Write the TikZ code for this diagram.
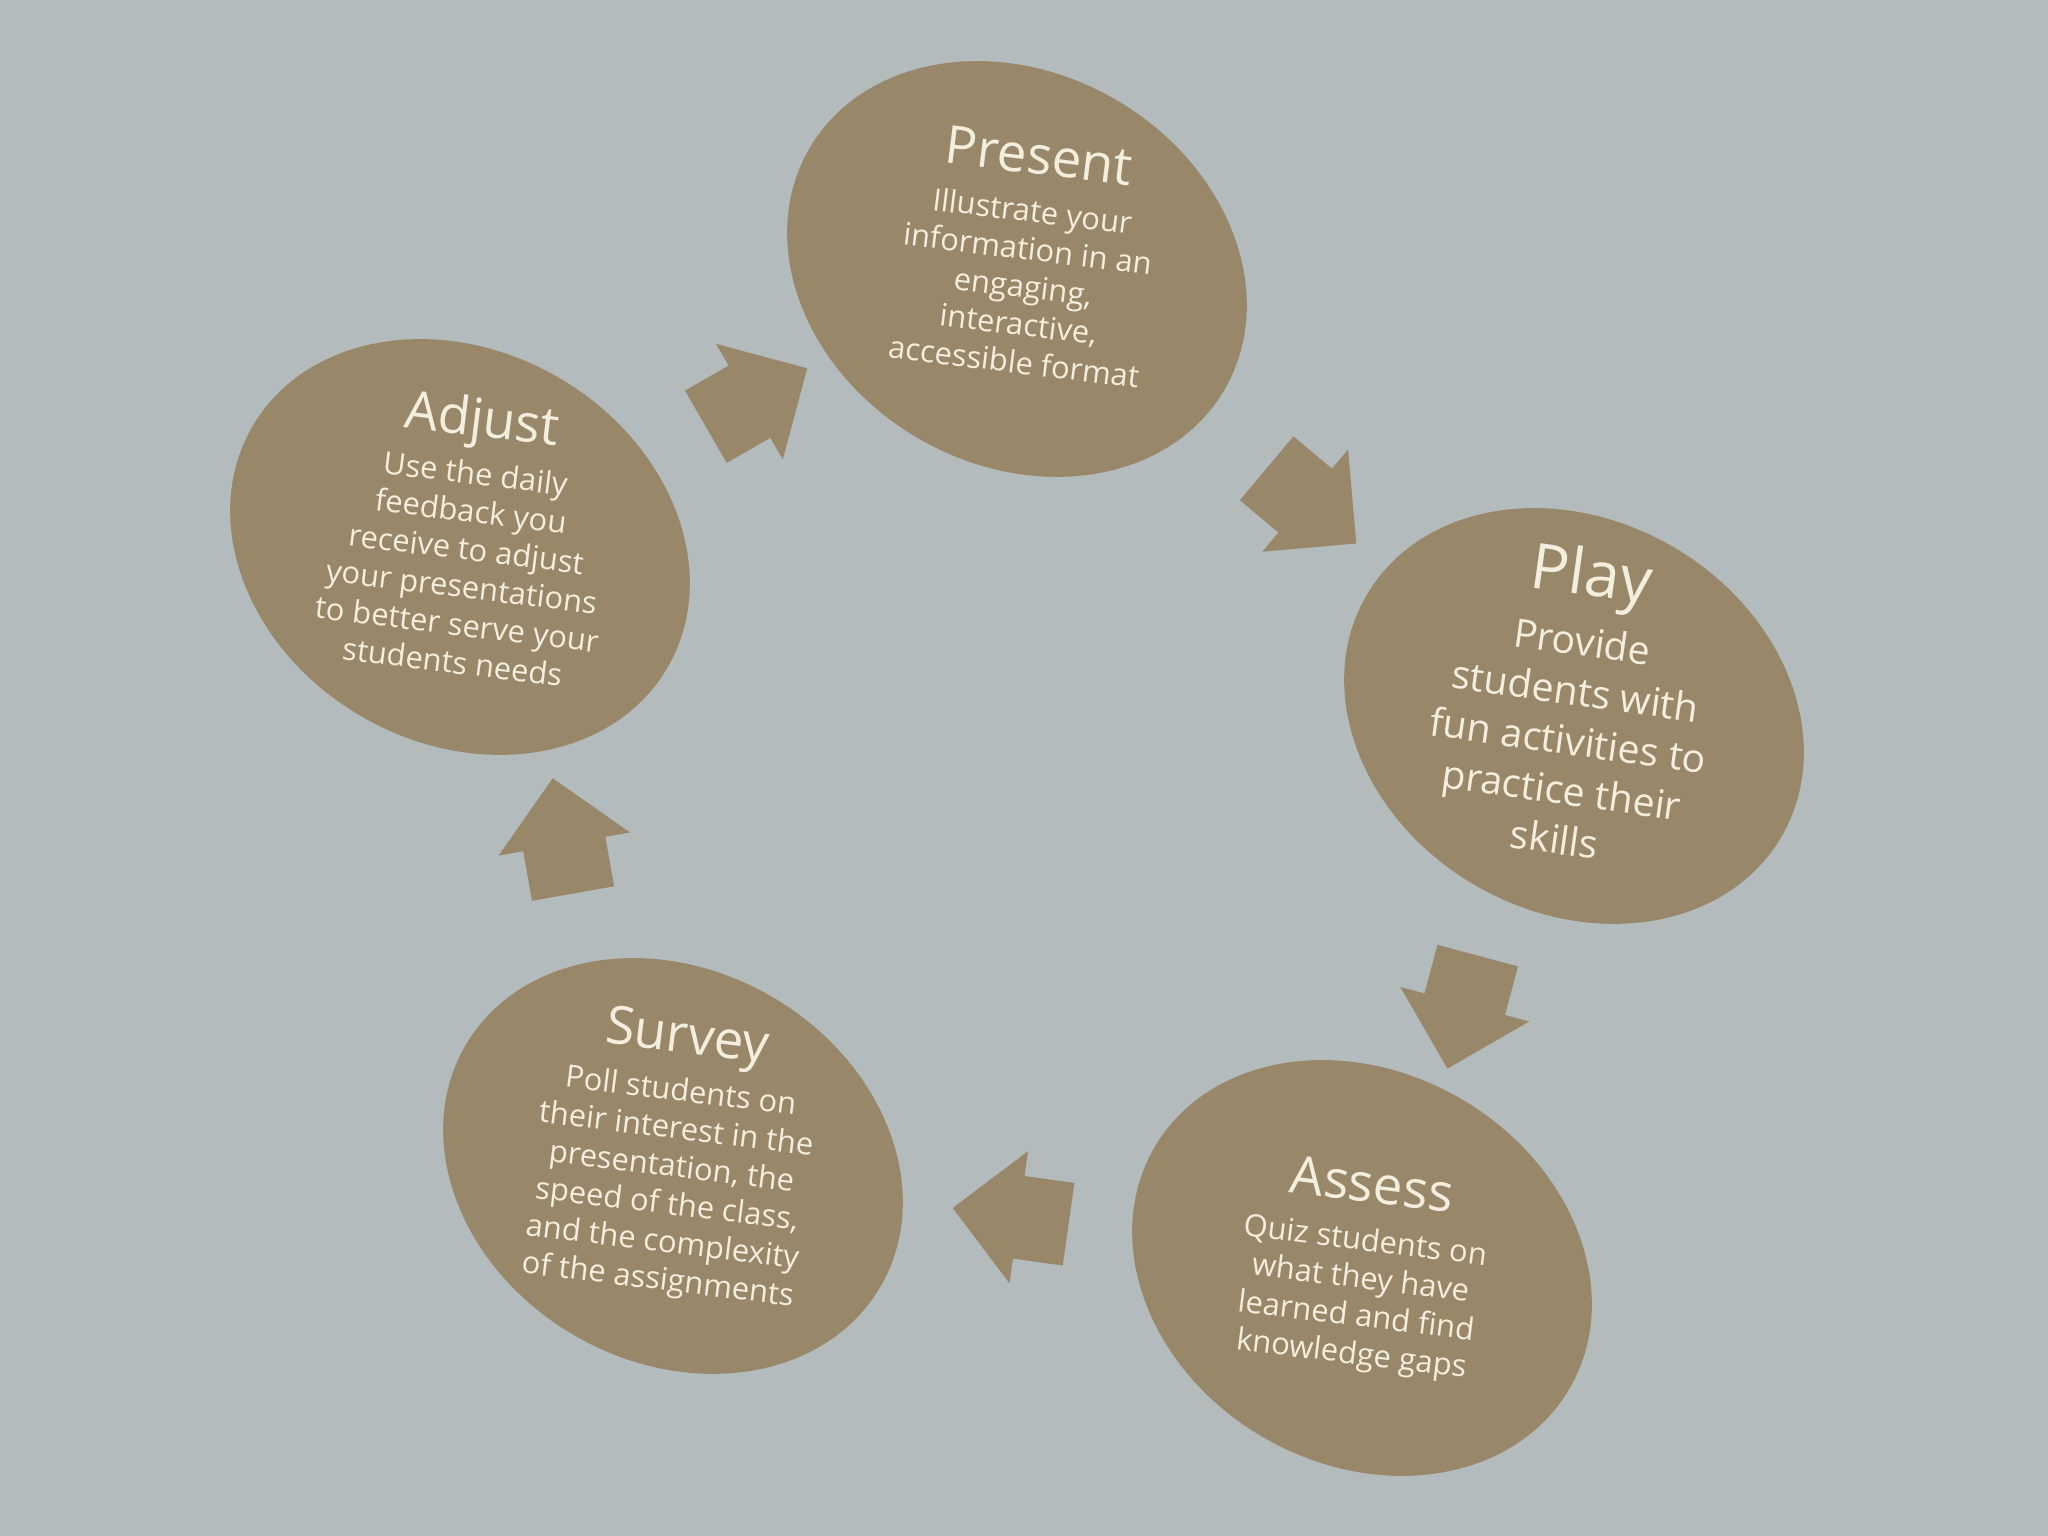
\documentclass[tikz,border=0pt]{standalone}
\usepackage{fontspec}
\setmainfont{Open Sans}
\usetikzlibrary{shapes.geometric,shapes.arrows,calc}

\begin{document}
\begin{tikzpicture}
                \def\tilt{-30}
                \def\lean{-7}
                \definecolor{paper}{HTML}{B3BBBD}
                \definecolor{clay}{HTML}{988769}
                \definecolor{chalk}{HTML}{F3EEDE}
                \tikzset{
                  disc/.style={ellipse, fill=clay, rotate=\tilt, inner sep=0pt,
                    minimum width=4.8cm, minimum height=3.92cm},
                  caption/.style={text=chalk, align=center, rotate=\lean, inner sep=0pt,
                    font=\fontsize{8.8}{10.8}\selectfont},
                  flowarrow/.style={single arrow, fill=clay, inner xsep=0pt, inner ysep=0.41cm,
                    minimum height=1.17cm, single arrow head extend=0.25cm}
                }
                \useasboundingbox[fill=paper] (0,0) rectangle (20.48,15.36);
                % the five stages
                \node[disc] (present) at (10.17,12.67) {};
                \node[disc] (play)    at (15.74,8.20)  {};
                \node[disc] (assess)  at (13.62,2.68)  {};
                \node[disc] (survey)  at (6.73,3.70)   {};
                \node[disc] (adjust)  at (4.60,9.89)   {};
                \node[caption] (present text) at ([xshift=0.1cm,yshift=0.14cm]present.center)
                  {{\fontsize{15}{18}\selectfont Present}\\[3pt]
                   Illustrate your\\information in an\\engaging,\\interactive,\\accessible format};
                \node[caption, rotate=-1, font=\fontsize{11.2}{14.2}\selectfont] (play text) at ([yshift=0.15cm]play.center)
                  {{\fontsize{18}{21}\selectfont Play}\\[3pt]
                   Provide\\students with\\fun activities to\\practice their\\skills};
                \node[caption] (assess text) at (assess.center)
                  {{\fontsize{15}{18}\selectfont Assess}\\[3pt]
                   Quiz students on\\what they have\\learned and find\\knowledge gaps};
                \node[caption] (survey text) at ([yshift=0.1cm]survey.center)
                  {{\fontsize{15}{18}\selectfont Survey}\\[3pt]
                   Poll students on\\their interest in the\\presentation, the\\speed of the class,\\and the complexity\\of the assignments};
                \node[caption] (adjust text) at ([xshift=0.08cm,yshift=0.12cm]adjust.center)
                  {{\fontsize{15}{18}\selectfont Adjust}\\[3pt]
                   Use the daily\\feedback you\\receive to adjust\\your presentations\\to better serve your\\students needs};
                % arrows half way between the stages
                \foreach \from/\to/\ang/\pos in {adjust/present/30/0.5, present/play/-40/0.5,
                    play/assess/-105/0.5, assess/survey/172/0.48, survey/adjust/100/0.5} {
                  \node[flowarrow, rotate=\ang] (\from-\to) at ($(\from)!\pos!(\to)$) {};
                }
              \end{tikzpicture}
\end{document}
